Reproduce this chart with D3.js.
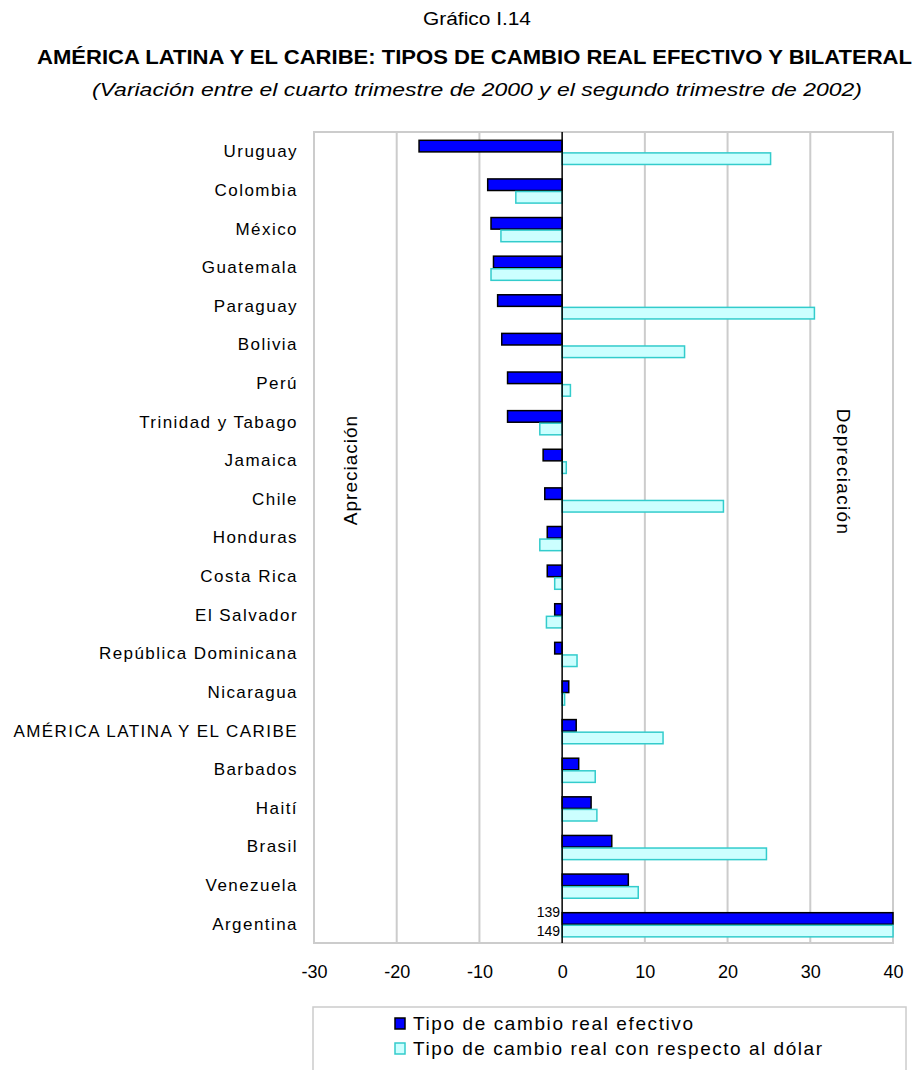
<!DOCTYPE html>
<meta charset="utf-8">
<style>
  body { margin: 0; background: #fff; }
  text { font-family: "Liberation Sans", Arial, sans-serif; fill: #000; }
</style>
<body>
<script src="https://d3js.org/d3.v7.min.js"></script>
<script>
var width = 918,
    height = 1070;

// data (% variation)
var countries = ["Uruguay", "Colombia", "México", "Guatemala", "Paraguay", "Bolivia", "Perú",
  "Trinidad y Tabago", "Jamaica", "Chile", "Honduras", "Costa Rica", "El Salvador",
  "República Dominicana", "Nicaragua", "AMÉRICA LATINA Y EL CARIBE", "Barbados", "Haití",
  "Brasil", "Venezuela", "Argentina"];
var efectivo = [-17.3, -9.0, -8.6, -8.3, -7.8, -7.3, -6.6, -6.6, -2.3, -2.1, -1.8, -1.8, -0.9,
  -0.9, 0.8, 1.7, 2.0, 3.5, 6.0, 8.0, 139];
var dolar = [25.2, -5.6, -7.4, -8.6, 30.5, 14.8, 1.0, -2.7, 0.5, 19.5, -2.7, -0.9, -1.9,
  1.8, 0.3, 12.2, 4.0, 4.2, 24.7, 9.2, 149];
var xTicks = [-30, -20, -10, 0, 10, 20, 30, 40];
var seriesNames = ["Tipo de cambio real efectivo", "Tipo de cambio real con respecto al dólar"];

var x = d3.scaleLinear()
    .domain([-30, 40])
    .range([314, 893])
    .clamp(true);

var y = d3.scaleBand()
    .domain(countries)
    .range([132, 943]);

var step = y.step(),
    barH = step * 0.30;

var svg = d3.select("body").append("svg")
    .attr("width", width)
    .attr("height", height);

// titles
svg.append("text")
    .attr("x", 423).attr("y", 25)
    .attr("textLength", 108)
    .attr("lengthAdjust", "spacingAndGlyphs")
    .style("font-size", "18px")
    .text("Gráfico I.14");

svg.append("text")
    .attr("x", 37).attr("y", 64)
    .attr("textLength", 875)
    .attr("lengthAdjust", "spacingAndGlyphs")
    .style("font-size", "21px")
    .style("font-weight", "bold")
    .text("AMÉRICA LATINA Y EL CARIBE:  TIPOS DE CAMBIO REAL EFECTIVO  Y BILATERAL");

svg.append("text")
    .attr("x", 92).attr("y", 96)
    .attr("textLength", 770)
    .attr("lengthAdjust", "spacingAndGlyphs")
    .style("font-size", "18px")
    .style("font-style", "italic")
    .text("(Variación entre el cuarto trimestre de 2000 y el segundo trimestre de 2002)");

// plot frame and grid
svg.append("rect")
    .attr("x", x(-30)).attr("y", 132)
    .attr("width", x(40) - x(-30)).attr("height", 943 - 132)
    .attr("fill", "none")
    .attr("stroke", "#cccccc")
    .attr("stroke-width", 2);

svg.selectAll(".grid")
    .data(xTicks.filter(function(d) { return d > -30 && d < 40 && d != 0; }))
  .enter().append("line")
    .attr("class", "grid")
    .attr("x1", function(d) { return x(d); })
    .attr("x2", function(d) { return x(d); })
    .attr("y1", 132).attr("y2", 943)
    .attr("stroke", "#cccccc")
    .attr("stroke-width", 2);

// side notes
svg.append("text")
    .attr("transform", "translate(357,470) rotate(-90)")
    .attr("text-anchor", "middle")
    .style("font-size", "19px")
    .style("letter-spacing", "1px")
    .text("Apreciación");

svg.append("text")
    .attr("transform", "translate(837,472) rotate(90)")
    .attr("text-anchor", "middle")
    .style("font-size", "19px")
    .style("letter-spacing", "1.3px")
    .text("Depreciación");

// bars
svg.selectAll(".ef")
    .data(efectivo)
  .enter().append("rect")
    .attr("class", "ef")
    .attr("x", function(d) { return x(Math.min(0, d)); })
    .attr("y", function(d, i) { return y(countries[i]) + step * 0.215; })
    .attr("width", function(d) { return Math.abs(x(d) - x(0)); })
    .attr("height", barH)
    .attr("fill", "#0000ff")
    .attr("stroke", "#000")
    .attr("stroke-width", 1.5);

svg.selectAll(".dol")
    .data(dolar)
  .enter().append("rect")
    .attr("class", "dol")
    .attr("x", function(d) { return x(Math.min(0, d)); })
    .attr("y", function(d, i) { return y(countries[i]) + step * 0.215 + barH + 1; })
    .attr("width", function(d) { return Math.abs(x(d) - x(0)); })
    .attr("height", barH)
    .attr("fill", "#ccffff")
    .attr("stroke", "#33cccc")
    .attr("stroke-width", 1.5);

// zero line
svg.append("line")
    .attr("x1", x(0)).attr("x2", x(0))
    .attr("y1", 132).attr("y2", 943)
    .attr("stroke", "#000")
    .attr("stroke-width", 1.5);

// values of the off-scale bars
var last = countries.length - 1;
svg.append("text")
    .attr("x", x(0) - 2).attr("y", y(countries[last]) + step * 0.215 + 4)
    .attr("text-anchor", "end")
    .style("font-size", "14px")
    .text(efectivo[last]);
svg.append("text")
    .attr("x", x(0) - 2).attr("y", y(countries[last]) + step * 0.215 + barH + 1 + 11)
    .attr("text-anchor", "end")
    .style("font-size", "14px")
    .text(dolar[last]);

// category labels
svg.append("g")
    .attr("transform", "translate(" + (x(-30) + 2) + ",0)")
    .call(d3.axisLeft(y).tickSize(0).tickPadding(18))
    .call(function(g) { g.select(".domain").remove(); })
    .selectAll("text")
    .style("font-size", "17px")
    .style("letter-spacing", "1.45px")
    .attr("dy", "0.35em");

// x axis labels
svg.append("g")
    .attr("transform", "translate(0,943)")
    .call(d3.axisBottom(x).tickValues(xTicks).tickFormat(function(d) { return String(d); })
      .tickSize(0).tickPadding(22))
    .call(function(g) { g.select(".domain").remove(); })
    .selectAll("text")
    .style("font-size", "18px");

// legend
svg.append("rect")
    .attr("x", 313).attr("y", 1007)
    .attr("width", 593).attr("height", 80)
    .attr("fill", "none")
    .attr("stroke", "#cccccc")
    .attr("stroke-width", 1.5);

var legendWidths = [280, 409];
var legend = svg.selectAll(".leg")
    .data(seriesNames)
  .enter().append("g")
    .attr("class", "leg")
    .attr("transform", function(d, i) { return "translate(395," + (1018 + i * 25) + ")"; });

legend.append("rect")
    .attr("width", 10).attr("height", 11)
    .attr("fill", function(d, i) { return i == 0 ? "#0000ff" : "#ccffff"; })
    .attr("stroke", function(d, i) { return i == 0 ? "#000" : "#33cccc"; })
    .attr("stroke-width", 1.5);

legend.append("text")
    .attr("x", 18).attr("y", 12)
    .attr("textLength", function(d, i) { return legendWidths[i]; })
    .attr("lengthAdjust", "spacing")
    .style("font-size", "19px")
    .text(function(d) { return d; });
</script>
</body>
